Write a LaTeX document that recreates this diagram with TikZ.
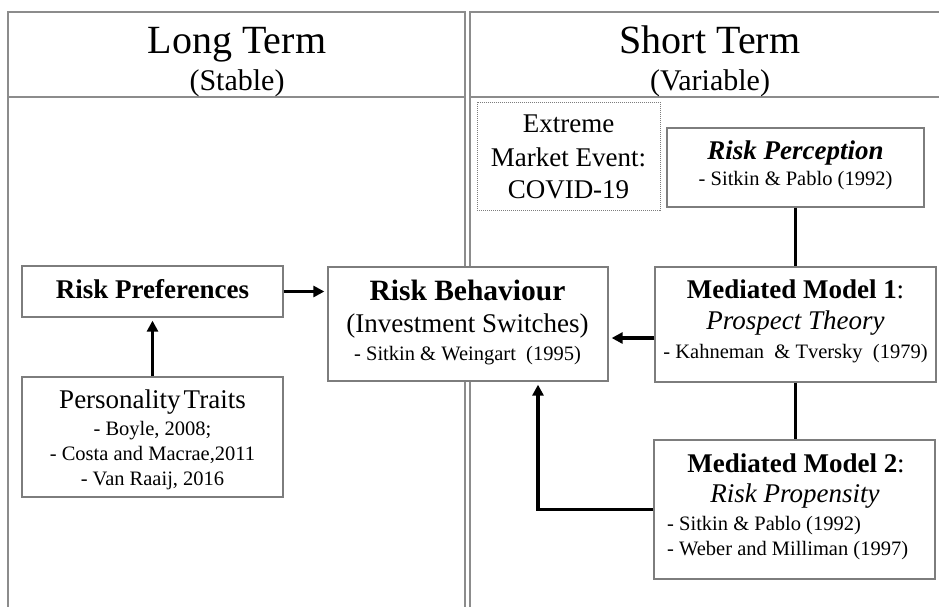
\documentclass[tikz,border=0pt]{standalone}
\usepackage{fontspec}
\setmainfont{Liberation Serif}
\usetikzlibrary{arrows.meta,calc}
\definecolor{boxgray}{RGB}{125,125,125}
\definecolor{panelgray}{RGB}{140,140,140}
\tikzset{
  box/.style={draw=boxgray, line width=1.3pt, fill=white, inner sep=0pt, rectangle},
  dotbox/.style={draw=boxgray, line width=1pt, dash pattern=on 1pt off 1pt, fill=white, inner sep=0pt, rectangle},
  panel/.style={draw=panelgray, line width=1.6pt},
  conn/.style={line width=3.4pt, black},
  arr/.style={conn, -{Triangle[length=11pt,width=11pt]}, shorten >=3pt},
  txthead/.style={anchor=base, inner sep=0pt, font=\fontsize{40}{44}\selectfont},
  txthsub/.style={anchor=base, inner sep=0pt, font=\fontsize{30}{34}\selectfont},
  txtmain/.style={anchor=base, inner sep=0pt, font=\fontsize{27}{30}\selectfont},
  txtsub/.style={anchor=base, inner sep=0pt, font=\fontsize{20.5}{24}\selectfont},
  txtsubl/.style={anchor=base west, inner sep=0pt, font=\fontsize{20.5}{24}\selectfont},
}
\begin{document}
\begin{tikzpicture}[x=1pt,y=-1pt]
\useasboundingbox (0,0) rectangle (939,606);
\fill[white] (0,0) rectangle (939,606);
\clip (0,0) rectangle (939,606);
% panels
\draw[panel] (8,612) -- (8,12) -- (465,12) -- (465,612);
\draw[panel] (8,97) -- (465,97);
\draw[panel] (470,612) -- (470,12) -- (945,12);
\draw[panel] (470,97) -- (945,97);
\node[txthead] (lt) at (237,53) {Long Term};
\node[txthsub] (lts) at (237,90) {(Stable)};
\node[txthead] (st) at (710,53) {Short Term};
\node[txthsub] (sts) at (710,90) {(Variable)};
% boxes
\node[dotbox, minimum width=183pt, minimum height=108pt] (ext) at (568.5,156) {};
\node[box, minimum width=257pt, minimum height=79pt] (rp) at (795.5,167.5) {};
\node[box, minimum width=261pt, minimum height=51pt] (pref) at (152.5,291.5) {};
\node[box, minimum width=280pt, minimum height=114pt] (rb) at (468,324) {};
\node[box, minimum width=281pt, minimum height=115pt] (mm1) at (795.5,324.5) {};
\node[box, minimum width=281pt, minimum height=139pt] (mm2) at (794.5,509.5) {};
\node[box, minimum width=261pt, minimum height=120pt] (pt) at (152.5,437) {};
% texts
\node[txtmain] at (568.5,132) {Extreme};
\node[txtmain] at (568.5,166) {Market Event:};
\node[txtmain] at (568.5,198) {COVID-19};
\node[txtmain] at (795.5,159) {\textbf{\textit{Risk Perception}}};
\node[txtsub] at (795.5,185) {- Sitkin \& Pablo (1992)};
\node[txtmain] at (152.5,298) {\textbf{Risk Preferences}};
\node[txtmain, font=\fontsize{29.5}{32}\selectfont] at (467.5,300) {\textbf{Risk Behaviour}};
\node[txtmain] at (467.5,332) {(Investment Switches)};
\node[txtsub] at (467.5,360) {- Sitkin \& Weingart~~(1995)};
\node[txtmain] at (795.5,298) {\textbf{Mediated Model 1}:};
\node[txtmain] at (795.5,329) {\textit{Prospect Theory}};
\node[txtsub] at (795.5,358) {- Kahneman~~\& Tversky~~(1979)};
\node[txtmain] at (796,472) {\textbf{Mediated Model 2}:};
\node[txtmain] at (795,502) {\textit{Risk Propensity}};
\node[txtsubl] at (667,530) {- Sitkin \& Pablo (1992)};
\node[txtsubl] at (667,555) {- Weber and Milliman (1997)};
\node[txtmain] at (152.5,408) {Personality\kern3ptTraits};
\node[txtsub] at (152.5,435) {- Boyle, 2008;};
\node[txtsub] at (152.5,460) {- Costa and Macrae,2011};
\node[txtsub] at (152.5,485) {- Van Raaij, 2016};
% connectors
\draw[arr] (pref.east) -- (pref.east -| rb.west);
\draw[arr] (pt.north) -- (pref.south);
\draw[conn] (rp.south) -- (rp.south |- mm1.north);
\draw[conn] (mm1.south) -- (mm1.south |- mm2.north);
\draw[arr] ([yshift=-13.5pt]mm1.west) -- ([yshift=-13.5pt]mm1.west -| rb.east);
\draw[arr] (mm2.west) -| ([xshift=70pt]rb.south);
\end{tikzpicture}
\end{document}
